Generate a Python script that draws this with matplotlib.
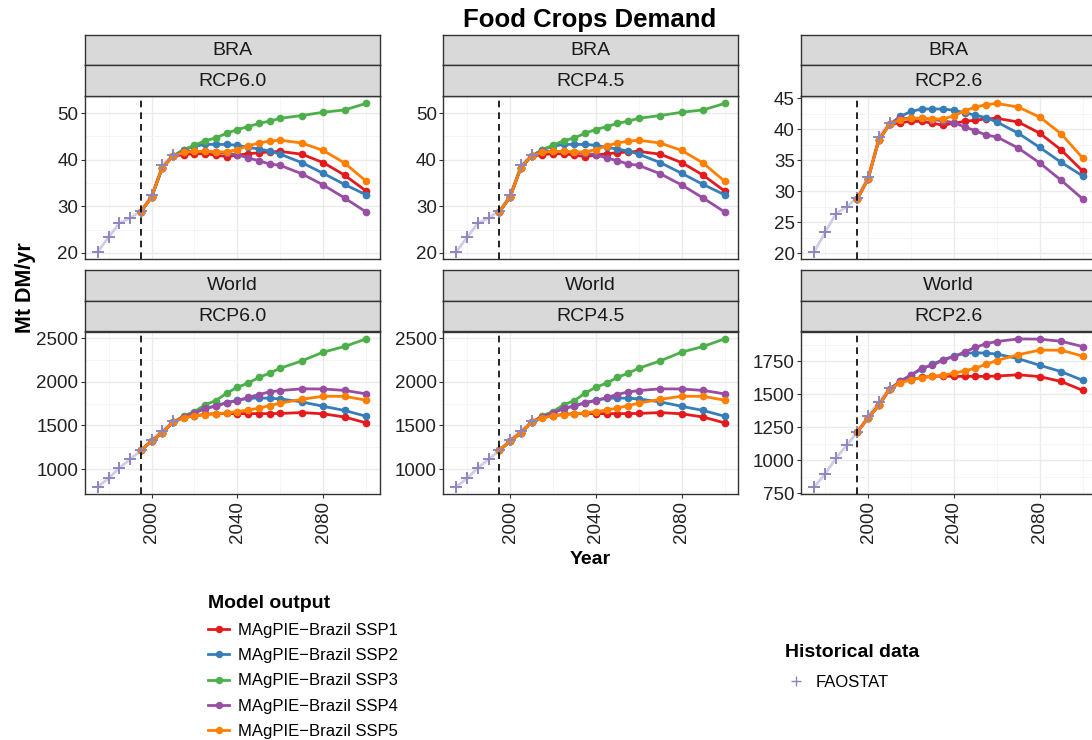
import matplotlib
matplotlib.use("Agg")
import matplotlib.pyplot as plt
from matplotlib.lines import Line2D
from matplotlib.ticker import MultipleLocator

plt.rcParams['font.family'] = ['Liberation Sans', 'DejaVu Sans']

# ---- data ----
hist_years = [1975, 1980, 1985, 1990, 1995, 2000, 2005, 2010]
faostat_bra = [20.3, 23.4, 26.4, 27.5, 29.0, 32.4, 38.8, 41.1]
faostat_world = [800, 895, 1015, 1112, 1214, 1338, 1440, 1550]

model_years = [1995, 2000, 2005, 2010, 2015, 2020, 2025, 2030, 2035, 2040,
               2045, 2050, 2055, 2060, 2070, 2080, 2090, 2100]

bra_ssp1 = [28.8, 32.0, 38.3, 40.8, 41.1, 41.3, 41.3, 41.0, 40.7, 41.0, 41.3, 41.5, 41.7, 41.8, 41.2, 39.4, 36.7, 33.3]
bra_ssp2 = [28.8, 32.0, 38.3, 40.8, 42.1, 42.9, 43.3, 43.3, 43.3, 43.1, 42.7, 42.3, 41.9, 41.2, 39.4, 37.1, 34.7, 32.5]
bra_ssp3 = [28.8, 32.0, 38.3, 40.8, 42.2, 43.1, 44.1, 44.7, 45.7, 46.5, 47.1, 47.8, 48.3, 48.9, 49.5, 50.2, 50.7, 52.1]
bra_ssp4 = [28.8, 32.0, 38.3, 40.8, 41.8, 41.8, 41.8, 41.6, 41.4, 41.1, 40.4, 39.8, 39.1, 38.8, 37.0, 34.6, 31.8, 28.8]
bra_ssp5 = [28.8, 32.0, 38.3, 40.8, 41.6, 41.8, 41.8, 41.7, 41.7, 42.2, 43.0, 43.6, 44.0, 44.2, 43.6, 42.0, 39.3, 35.4]

world_ssp1 = [1214, 1320, 1415, 1537, 1592, 1610, 1628, 1636, 1638, 1636, 1636, 1636, 1636, 1638, 1648, 1634, 1597, 1530]
world_ssp2 = [1214, 1320, 1415, 1537, 1597, 1645, 1691, 1728, 1762, 1790, 1810, 1815, 1812, 1805, 1770, 1720, 1672, 1606]
world_ssp3 = [1214, 1320, 1415, 1537, 1611, 1660, 1737, 1786, 1870, 1939, 1985, 2050, 2099, 2156, 2240, 2340, 2405, 2492]
world_ssp4 = [1214, 1320, 1415, 1537, 1600, 1645, 1699, 1720, 1760, 1785, 1821, 1855, 1884, 1900, 1920, 1918, 1902, 1862]
world_ssp5 = [1214, 1320, 1415, 1537, 1588, 1610, 1625, 1636, 1645, 1660, 1677, 1698, 1728, 1756, 1800, 1835, 1834, 1790]

ssp_names = ["MAgPIE\u2212Brazil SSP1", "MAgPIE\u2212Brazil SSP2", "MAgPIE\u2212Brazil SSP3",
             "MAgPIE\u2212Brazil SSP4", "MAgPIE\u2212Brazil SSP5"]
ssp_colors = ["#E41A1C", "#377EB8", "#4DAF4A", "#984EA3", "#FF7F00"]

regions = ["BRA", "World"]
scenarios = ["RCP6.0", "RCP4.5", "RCP2.6"]
model = {"BRA": [bra_ssp1, bra_ssp2, bra_ssp3, bra_ssp4, bra_ssp5],
         "World": [world_ssp1, world_ssp2, world_ssp3, world_ssp4, world_ssp5]}
hist = {"BRA": faostat_bra, "World": faostat_world}

hist_marker = "#8C87BF"
hist_line = "#CFCDE6"
dark = "#333333"

fig = plt.figure(figsize=(10.92, 7.40), dpi=100)
W, H = 1092.0, 740.0

col_left = [84.5, 443, 801]
pw = 295
rows = [(96, 259, 34.5, 65.3), (331.5, 494, 270, 300.7)]  # plot top, plot bottom, strip1 top, strip2 top


def fx(px):
    return px / W


def fy(py):
    return 1 - py / H


for ri, reg in enumerate(regions):
    ptop, pbot, s1, s2 = rows[ri]
    for ci, scen in enumerate(scenarios):
        x0 = col_left[ci]
        ax = fig.add_axes([fx(x0), fy(pbot), pw / W, (pbot - ptop) / H])
        ax.set_facecolor("white")

        for k in range(5):
            if scen == "RCP2.6" and k == 2:
                continue  # no SSP3 under RCP2.6
            ax.plot(model_years, model[reg][k], color=ssp_colors[k], lw=2.0,
                    marker="o", ms=4.5, zorder=3 + k * 0.1)
        ax.plot(hist_years, hist[reg], color=hist_line, lw=2.0, zorder=2.5)
        ax.plot(hist_years, hist[reg], ls="none", marker="+", ms=9, mew=1.4,
                color=hist_marker, zorder=4)
        ax.axvline(1995, color="black", ls=(0, (4, 3)), lw=1.2, zorder=5)

        ax.margins(x=0.05, y=0.05)
        ax.xaxis.set_major_locator(MultipleLocator(40))
        ax.xaxis.set_minor_locator(MultipleLocator(20))
        if reg == "BRA":
            step = 5 if scen == "RCP2.6" else 10
        else:
            step = 250 if scen == "RCP2.6" else 500
        ax.yaxis.set_major_locator(MultipleLocator(step))
        ax.yaxis.set_minor_locator(MultipleLocator(step / 2))

        ax.grid(which="major", color="#EBEBEB", lw=1.0, zorder=0)
        ax.grid(which="minor", color="#F4F4F4", lw=0.6, zorder=0)
        ax.set_axisbelow(True)
        for sp in ax.spines.values():
            sp.set_color(dark)
            sp.set_linewidth(1.0)

        ax.tick_params(axis="y", which="major", length=3, width=0.8, color=dark,
                       labelsize=13.5, labelcolor="#222222", pad=1.5)
        ax.tick_params(which="minor", length=0)
        if ri == 1:
            ax.tick_params(axis="x", which="major", length=3, width=0.8, color=dark,
                           labelsize=13.5, labelcolor="#222222", labelrotation=90, pad=2)
        else:
            ax.tick_params(axis="x", which="major", length=0, labelbottom=False)

        # facet strips
        for top, label in ((s1, reg), (s2, scen)):
            bot = s2 if top == s1 else ptop
            sax = fig.add_axes([fx(x0), fy(bot), pw / W, (bot - top) / H])
            sax.set_facecolor("#D9D9D9")
            sax.set_xticks([])
            sax.set_yticks([])
            for sp in sax.spines.values():
                sp.set_color(dark)
                sp.set_linewidth(1.0)
            sax.text(0.5, 0.48, label, transform=sax.transAxes, ha="center",
                     va="center", fontsize=14, color="#1A1A1A")

fig.text(fx(590), fy(20), "Food Crops Demand", ha="center", va="center",
         fontsize=18.5, fontweight="bold")
fig.text(fx(590), fy(560), "Year", ha="center", va="center",
         fontsize=14, fontweight="bold")
fig.text(fx(25), fy(288), "Mt DM/yr", ha="center", va="center", rotation=90,
         fontsize=15.5, fontweight="bold")

model_handles = [Line2D([], [], color=c, lw=2.0, marker="o", ms=4.3) for c in ssp_colors]
leg1 = fig.legend(model_handles, ssp_names, loc="upper left",
                  bbox_to_anchor=(fx(200), fy(587)), frameon=False, fontsize=12,
                  title="Model output", title_fontproperties={"weight": "bold", "size": 14},
                  alignment="left", borderpad=0, handlelength=1.25, handletextpad=0.55,
                  labelspacing=0.62)
hist_handle = [Line2D([], [], color=hist_marker, lw=0, marker="+", ms=7, mew=1.0)]
leg2 = fig.legend(hist_handle, ["FAOSTAT"], loc="upper left",
                  bbox_to_anchor=(fx(777), fy(636)), frameon=False, fontsize=12,
                  title="Historical data", title_fontproperties={"weight": "bold", "size": 14},
                  alignment="left", borderpad=0, handlelength=1.25, handletextpad=0.55,
                  labelspacing=0.8)

fig.savefig("out.png", dpi=100, facecolor="white")
